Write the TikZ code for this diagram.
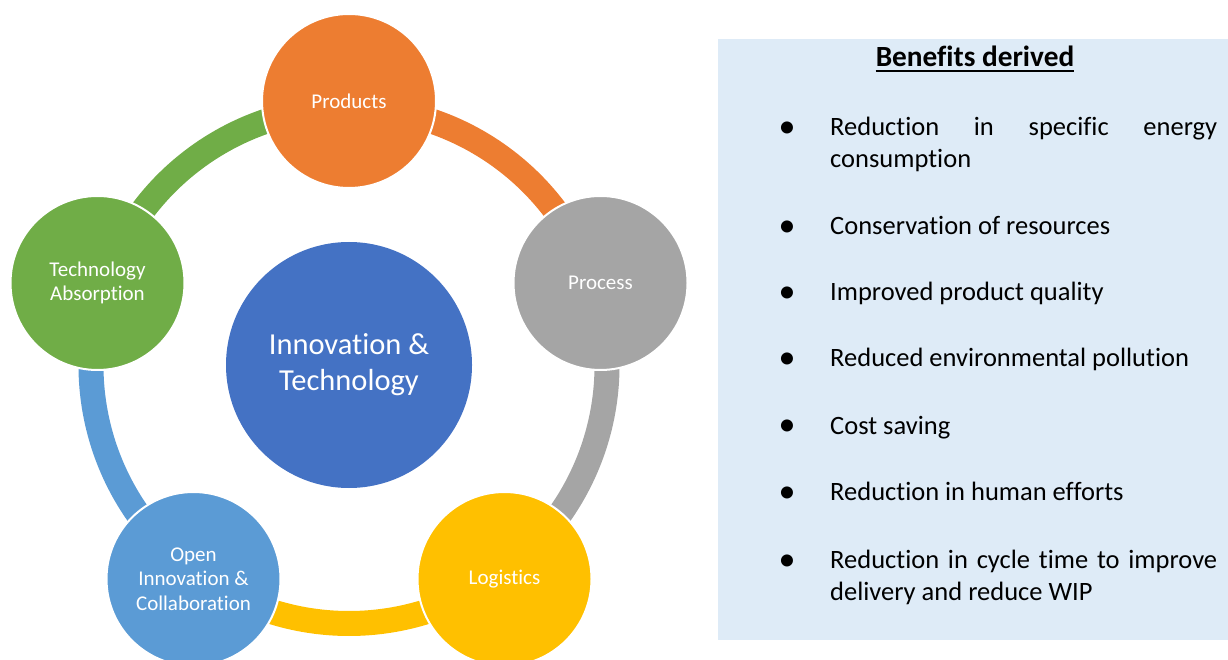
\documentclass[tikz,border=0pt]{standalone}
\usepackage{fontspec}
\setmainfont[Ligatures=NoCommon]{Carlito}
\definecolor{corange}{HTML}{ED7D31}
\definecolor{cgray}{HTML}{A5A5A5}
\definecolor{cyellow}{HTML}{FFC000}
\definecolor{cblue}{HTML}{5B9BD5}
\definecolor{cgreen}{HTML}{70AD47}
\definecolor{coreblue}{HTML}{4472C4}
\definecolor{panel}{HTML}{DEEBF7}
\begin{document}
\begin{tikzpicture}[x=1pt,y=1pt,
  hub/.style={circle, draw=white, line width=2pt, minimum size=174pt, inner sep=0pt,
    text=white, align=center, font=\fontsize{21}{24.5}\selectfont},
  core/.style={circle, fill=coreblue, minimum size=246pt, inner sep=0pt,
    text=white, align=center, font=\fontsize{30.5}{36}\selectfont},
  band/.style={line width=25pt},
  item/.style={anchor=base west, inner sep=0pt, font=\fontsize{26.5}{31}\selectfont},
  bullet/.style={anchor=base, inner sep=0pt, yshift=-2pt, font=\fontsize{34}{31}\selectfont}]

\useasboundingbox (0,0) rectangle (1228,659);

% ring of coloured bands linking the five topics
\coordinate (ring) at (349,293.5);
\draw[band, cgreen]  ([shift={(162:258)}]ring) arc[start angle=162, end angle=90,  radius=258];
\draw[band, corange] ([shift={(90:258)}]ring)  arc[start angle=90,  end angle=18,  radius=258];
\draw[band, cgray]   ([shift={(18:258)}]ring)  arc[start angle=18,  end angle=-54, radius=258];
\draw[band, cyellow] ([shift={(306:258)}]ring) arc[start angle=306, end angle=234, radius=258];
\draw[band, cblue]   ([shift={(234:258)}]ring) arc[start angle=234, end angle=162, radius=258];

% topic circles
\node[hub, fill=corange] (products)  at (349,558)   {Products};
\node[hub, fill=cgray]   (process)   at (600.5,376) {Process};
\node[hub, fill=cyellow] (logistics) at (504.5,80)  {Logistics};
\node[hub, fill=cblue]   (open)      at (193.5,80)  {Open\\Innovation \&\\Collaboration};
\node[hub, fill=cgreen]  (absorb)    at (97.5,376)  {Technology\\Absorption};

% central circle
\node[core] (core) at (349,294) {Innovation \&\\Technology};

% benefits panel
\fill[panel] (718,19) rectangle (1228,620);
\node[anchor=base, inner sep=0pt, font=\fontsize{29.3}{34}\selectfont\bfseries] (title) at (975,592) {Benefits derived};
\draw[line width=1.6pt] ([yshift=-4pt]title.base west) -- ([yshift=-4pt]title.base east);

\node[bullet] (b1) at (787,523) {•};
\node[item] (t1a) at (830,523) {\makebox[387pt][s]{Reduction in specific energy}};
\node[item] (t1b) at (830,491) {consumption};

\node[bullet] (b2) at (787,424.5) {•};
\node[item] (t2) at (830,424.5) {Conservation of resources};

\node[bullet] (b3) at (787,358) {•};
\node[item] (t3) at (830,358) {Improved product quality};

\node[bullet] (b4) at (787,292) {•};
\node[item] (t4) at (830,292) {Reduced environmental pollution};

\node[bullet] (b5) at (787,225) {•};
\node[item] (t5) at (830,225) {Cost saving};

\node[bullet] (b6) at (787,159) {•};
\node[item] (t6) at (830,159) {Reduction in human efforts};

\node[bullet] (b7) at (787,91) {•};
\node[item] (t7a) at (830,91) {\makebox[387pt][s]{Reduction in cycle time to improve}};
\node[item] (t7b) at (830,59) {delivery and reduce WIP};
\end{tikzpicture}
\end{document}
